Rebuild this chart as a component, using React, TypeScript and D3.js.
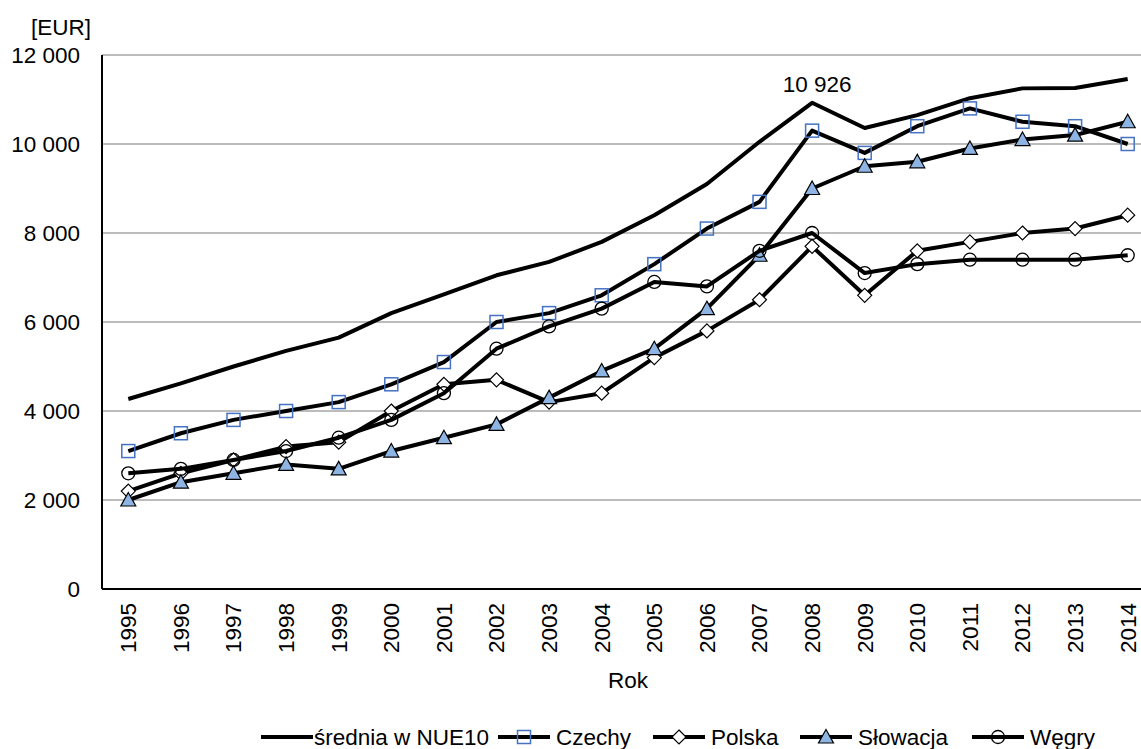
import React, { useEffect, useRef } from "react";
import * as d3 from "d3";

const years = ["1995", "1996", "1997", "1998", "1999", "2000", "2001", "2002", "2003", "2004",
    "2005", "2006", "2007", "2008", "2009", "2010", "2011", "2012", "2013", "2014"];

const sredniaNUE10 = [4270, 4620, 5000, 5350, 5650, 6200, 6620, 7050, 7350, 7800,
    8400, 9100, 10050, 10926, 10360, 10650, 11030, 11250, 11260, 11460];
const czechy = [3100, 3500, 3800, 4000, 4200, 4600, 5100, 6000, 6200, 6600,
    7300, 8100, 8700, 10300, 9800, 10400, 10800, 10500, 10400, 10000];
const polska = [2200, 2600, 2900, 3200, 3300, 4000, 4600, 4700, 4200, 4400,
    5200, 5800, 6500, 7700, 6600, 7600, 7800, 8000, 8100, 8400];
const slowacja = [2000, 2400, 2600, 2800, 2700, 3100, 3400, 3700, 4300, 4900,
    5400, 6300, 7500, 9000, 9500, 9600, 9900, 10100, 10200, 10500];
const wegry = [2600, 2700, 2900, 3100, 3400, 3800, 4400, 5400, 5900, 6300,
    6900, 6800, 7600, 8000, 7100, 7300, 7400, 7400, 7400, 7500];

const yTicks = [0, 2000, 4000, 6000, 8000, 10000, 12000];
const peakLabel = { year: "2008", value: 10926 };

const series = [
    { name: "średnia w NUE10", values: sredniaNUE10, marker: "none" },
    { name: "Czechy", values: czechy, marker: "square" },
    { name: "Polska", values: polska, marker: "diamond" },
    { name: "Słowacja", values: slowacja, marker: "triangle" },
    { name: "Węgry", values: wegry, marker: "circle" },
];

const FONT = "Liberation Sans, Arial, sans-serif";

function drawMarker(g: any, type: string, cx: number, cy: number)
{
    if (type === "square")
    {
        g.append("rect")
            .attr("x", cx - 6.5)
            .attr("y", cy - 6.5)
            .attr("width", 13)
            .attr("height", 13)
            .attr("fill", "none")
            .attr("stroke", "#4472C4")
            .attr("stroke-width", 1.5);
    } else if (type === "diamond")
    {
        g.append("path")
            .attr("d", `M${cx},${cy - 7}L${cx + 7},${cy}L${cx},${cy + 7}L${cx - 7},${cy}Z`)
            .attr("fill", "#fff")
            .attr("stroke", "#000")
            .attr("stroke-width", 1.2);
    } else if (type === "triangle")
    {
        g.append("path")
            .attr("d", `M${cx},${cy - 7.5}L${cx + 7.5},${cy + 6}L${cx - 7.5},${cy + 6}Z`)
            .attr("fill", "#8EB4E3")
            .attr("stroke", "#000")
            .attr("stroke-width", 1.2);
    } else if (type === "circle")
    {
        g.append("circle")
            .attr("cx", cx)
            .attr("cy", cy)
            .attr("r", 6.5)
            .attr("fill", "none")
            .attr("stroke", "#000")
            .attr("stroke-width", 1.3);
    }
}

export default function App()
{
    const ref = useRef<SVGSVGElement>(null);

    useEffect(() =>
    {
        const svg = d3.select(ref.current);
        svg.selectAll("*").remove();

        const margin = { left: 102, right: 1154, top: 55, bottom: 589 };

        const x = d3.scalePoint()
            .domain(years)
            .range([margin.left, margin.right])
            .padding(0.5);

        const y = d3.scaleLinear()
            .domain([0, 12000])
            .range([margin.bottom, margin.top]);

        const locale = d3.formatLocale({ thousands: " ", grouping: [3], decimal: ",", currency: ["", "€"] });
        const fmt = locale.format(",");

        // gridlines
        svg.append("g")
            .selectAll("line")
            .data(yTicks.filter((d) => d > 0))
            .enter()
            .append("line")
            .attr("x1", margin.left)
            .attr("x2", margin.right)
            .attr("y1", (d) => y(d))
            .attr("y2", (d) => y(d))
            .attr("stroke", "#A6A6A6")
            .attr("stroke-width", 1.5);

        // y tick labels
        svg.append("g")
            .selectAll("text")
            .data(yTicks)
            .enter()
            .append("text")
            .attr("x", 80)
            .attr("y", (d) => y(d))
            .attr("dy", "0.35em")
            .attr("text-anchor", "end")
            .style("font-family", FONT)
            .style("font-size", "22.5px")
            .text((d) => fmt(d));

        svg.append("text")
            .attr("x", 61)
            .attr("y", 35)
            .attr("text-anchor", "middle")
            .style("font-family", FONT)
            .style("font-size", "22.5px")
            .text("[EUR]");

        // axes lines
        svg.append("line")
            .attr("x1", margin.left)
            .attr("x2", margin.left)
            .attr("y1", margin.top)
            .attr("y2", margin.bottom)
            .attr("stroke", "#000")
            .attr("stroke-width", 2);
        svg.append("line")
            .attr("x1", margin.left)
            .attr("x2", margin.right)
            .attr("y1", margin.bottom)
            .attr("y2", margin.bottom)
            .attr("stroke", "#000")
            .attr("stroke-width", 2);

        // x tick labels, rotated
        svg.append("g")
            .selectAll("text")
            .data(years)
            .enter()
            .append("text")
            .attr("transform", (d) => `translate(${x(d)},${margin.bottom + 14}) rotate(-90)`)
            .attr("dy", "0.35em")
            .attr("text-anchor", "end")
            .style("font-family", FONT)
            .style("font-size", "22.5px")
            .text((d) => d);

        svg.append("text")
            .attr("x", (margin.left + margin.right) / 2)
            .attr("y", 688)
            .attr("text-anchor", "middle")
            .style("font-family", FONT)
            .style("font-size", "22.5px")
            .text("Rok");

        const line = d3.line<number>()
            .x((d, i) => x(years[i]) as number)
            .y((d) => y(d));

        series.forEach((s) =>
        {
            const g = svg.append("g");
            g.append("path")
                .datum(s.values)
                .attr("d", line)
                .attr("fill", "none")
                .attr("stroke", "#000")
                .attr("stroke-width", 4)
                .attr("stroke-linejoin", "round");
            s.values.forEach((v, i) => drawMarker(g, s.marker, x(years[i]) as number, y(v)));
        });

        svg.append("text")
            .attr("x", (x(peakLabel.year) as number) + 5)
            .attr("y", y(peakLabel.value) - 11)
            .attr("text-anchor", "middle")
            .style("font-family", FONT)
            .style("font-size", "22.5px")
            .text(fmt(peakLabel.value));

        // legend
        const legendStarts = [261, 498, 653, 800, 972];
        const legend = svg.append("g").attr("transform", "translate(0,737)");
        series.forEach((s, i) =>
        {
            const item = legend.append("g").attr("transform", `translate(${legendStarts[i]},0)`);
            item.append("line")
                .attr("x1", 0)
                .attr("x2", 52)
                .attr("y1", 0)
                .attr("y2", 0)
                .attr("stroke", "#000")
                .attr("stroke-width", 4);
            drawMarker(item, s.marker, 26, 0);
            item.append("text")
                .attr("x", i === 0 ? 53 : 58)
                .attr("y", 8)
                .style("font-family", FONT)
                .style("font-size", "22.5px")
                .text(s.name);
        });
    }, []);

    return (
        <svg ref={ref} width={1141} height={749}
            style={{ position: "absolute", left: 0, top: 0, background: "#fff" }} />
    );
}
